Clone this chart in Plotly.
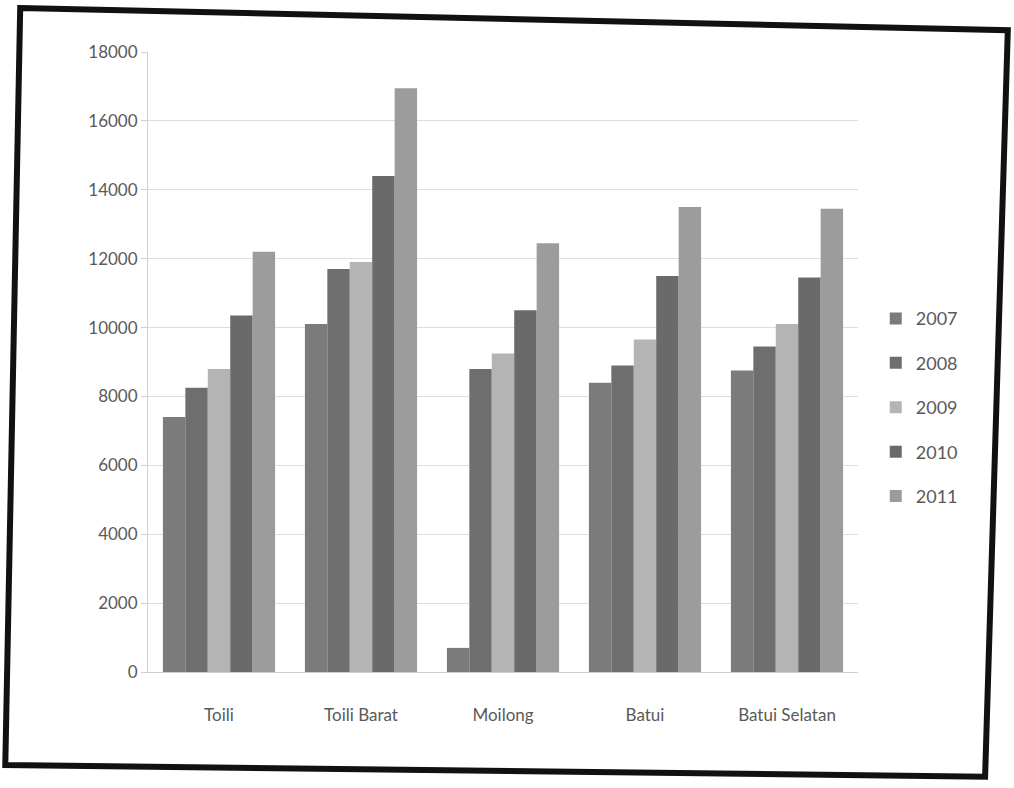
import plotly.graph_objects as go

categories = ["Toili", "Toili Barat", "Moilong", "Batui", "Batui Selatan"]
years = ["2007", "2008", "2009", "2010", "2011"]
v2007 = [7400, 10100, 700, 8400, 8750]
v2008 = [8250, 11700, 8800, 8900, 9450]
v2009 = [8800, 11900, 9250, 9650, 10100]
v2010 = [10350, 14400, 10500, 11500, 11450]
v2011 = [12200, 16950, 12450, 13500, 13450]
series = [v2007, v2008, v2009, v2010, v2011]
colors = ["#7b7b7b", "#6e6e6e", "#b4b4b4", "#6a6a6a", "#9c9c9c"]
y_ticks = [0, 2000, 4000, 6000, 8000, 10000, 12000, 14000, 16000, 18000]
y_labels = ["0", "2000", "4000", "6000", "8000", "10000", "12000", "14000", "16000", "18000"]

font_family = "Lato, 'Open Sans', sans-serif"

fig = go.Figure()
for yr, vals, col in zip(years, series, colors):
    fig.add_trace(go.Bar(
        x=categories, y=vals, name=yr, legendgroup=yr,
        marker=dict(color=col, line=dict(width=0)),
    ))

fig.update_layout(
    width=1014, height=788,
    paper_bgcolor="white", plot_bgcolor="white",
    margin=dict(l=148, r=156, t=52, b=116),
    barmode="group", bargap=0.21, bargroupgap=0,
    font=dict(family=font_family, color="#5a5a5a", size=16),
    showlegend=True,
    legend=dict(x=1.025, y=0.427, xanchor="left", yanchor="middle",
                font=dict(size=18, color="#5a5a5a"),
                tracegroupgap=18, traceorder="grouped",
                itemwidth=30, bgcolor="rgba(0,0,0,0)"),
    xaxis=dict(showgrid=False, showline=True, linecolor="#d0d0d0",
               ticks="", tickfont=dict(size=17, color="#5a5a5a"),
               ticklabelstandoff=28),
    yaxis=dict(range=[0, 18000], tickvals=y_ticks, ticktext=y_labels,
               showgrid=True, gridcolor="#dedede", gridwidth=1,
               showline=True, linecolor="#d0d0d0",
               ticks="outside", ticklen=6, tickcolor="#d0d0d0",
               tickfont=dict(size=17, color="#5a5a5a"),
               zeroline=False),
)

# tilted scanned frame
fig.add_shape(type="path", xref="paper", yref="paper",
              path="M -0.180,1.071 L 1.211,1.035 L 1.179,-0.169 L -0.201,-0.150 Z",
              line=dict(color="#111111", width=6), layer="above")

fig.write_html("out.html")
